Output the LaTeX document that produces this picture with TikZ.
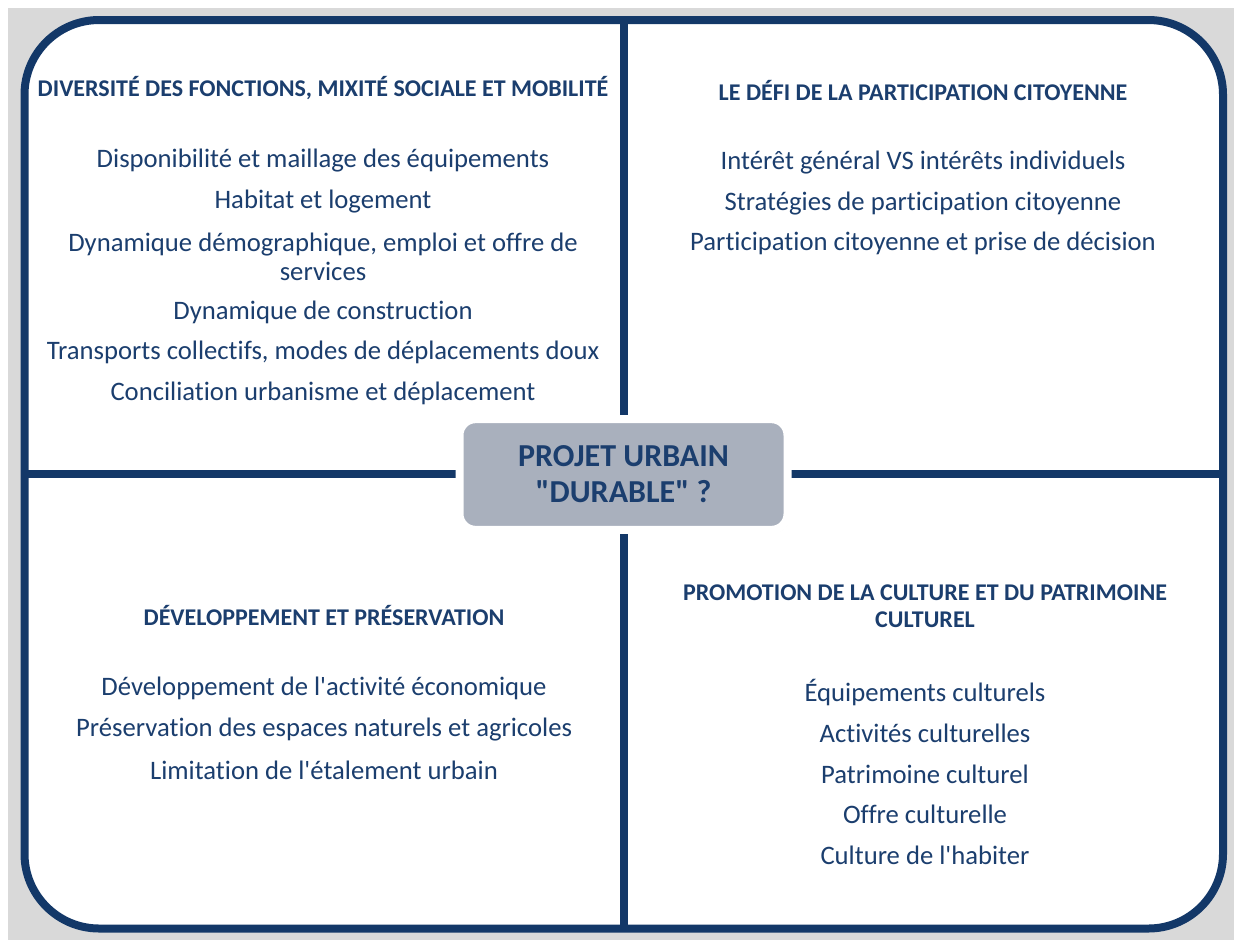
\documentclass[tikz,border=0pt]{standalone}
\usepackage{fontspec}
\setmainfont{Carlito}[Ligatures={TeXOff,NoCommon}]
\usetikzlibrary{shadows}
\definecolor{navy}{RGB}{19,56,104}
\definecolor{txt}{RGB}{27,62,110}
\definecolor{bggray}{RGB}{217,217,217}
\definecolor{boxgray}{RGB}{169,176,189}
\begin{document}
\begin{tikzpicture}[x=0.75pt,y=-0.75pt,
  ttl/.style={font=\fontsize{18}{20.3}\selectfont\bfseries, text=txt, align=center, inner sep=0pt},
  item/.style={font=\fontsize{20}{21.8}\selectfont, text=txt, align=center, inner sep=0pt, yshift=-2pt},
  divider/.style={draw=navy, line width=6pt}
]
\useasboundingbox (0,0) rectangle (1234,940);
\fill[bggray] (8,8) rectangle (1234,940);
\draw[navy, line width=6pt, fill=white, rounded corners=56pt,
  drop shadow={shadow xshift=2pt, shadow yshift=-2pt, opacity=0.35}]
  (24.5,20) rectangle (1223,928.5);
\coordinate (T) at (624,20);
\coordinate (B) at (624,928.5);
\coordinate (L) at (24.5,474);
\coordinate (R) at (1223,474);
\draw[divider] (T) -- (B);
\draw[divider] (L) -- (R);
\node[draw=white, line width=6pt, fill=boxgray, rounded corners=12pt,
  minimum width=246pt, minimum height=83pt,
  drop shadow={shadow xshift=1.5pt, shadow yshift=-2pt, opacity=0.4},
  font=\fontsize{24}{27}\selectfont\bfseries, text=txt, align=center]
  (C) at (623.5,474.5) {PROJET URBAIN\\"DURABLE" ?};
% top-left
\node[ttl] (t1) at (323,88) {DIVERSITÉ DES FONCTIONS, MIXITÉ SOCIALE ET MOBILITÉ};
\node[item] (a1) at (323,158) {Disponibilité et maillage des équipements};
\node[item] (a2) at (323,199) {Habitat et logement};
\node[item] (a3) at (323,254.5) {Dynamique démographique, emploi et offre de\\services};
\node[item] (a4) at (323,310) {Dynamique de construction};
\node[item] (a5) at (323,350) {Transports collectifs, modes de déplacements doux};
\node[item] (a6) at (323,391) {Conciliation urbanisme et déplacement};
% top-right
\node[ttl] (t2) at (923,90) {LE DÉFI DE LA PARTICIPATION CITOYENNE};
\node[item] (b1) at (923,160) {Intérêt général VS intérêts individuels};
\node[item] (b2) at (923,201) {Stratégies de participation citoyenne};
\node[item] (b3) at (923,241) {Participation citoyenne et prise de décision};
% bottom-left
\node[ttl] (t3) at (324,615) {DÉVELOPPEMENT ET PRÉSERVATION};
\node[item] (c1) at (324,686) {Développement de l'activité économique};
\node[item] (c2) at (324,727) {Préservation des espaces naturels et agricoles};
\node[item] (c3) at (324,768) {Limitation de l'étalement urbain};
% bottom-right
\node[ttl] (t4) at (925,606.5) {PROMOTION DE LA CULTURE ET DU PATRIMOINE\\CULTUREL};
\node[item] (d1) at (925,690) {Équipements culturels};
\node[item] (d2) at (925,731) {Activités culturelles};
\node[item] (d3) at (925,772) {Patrimoine culturel};
\node[item] (d4) at (925,812) {Offre culturelle};
\node[item] (d5) at (925,853) {Culture de l'habiter};
\end{tikzpicture}
\end{document}
